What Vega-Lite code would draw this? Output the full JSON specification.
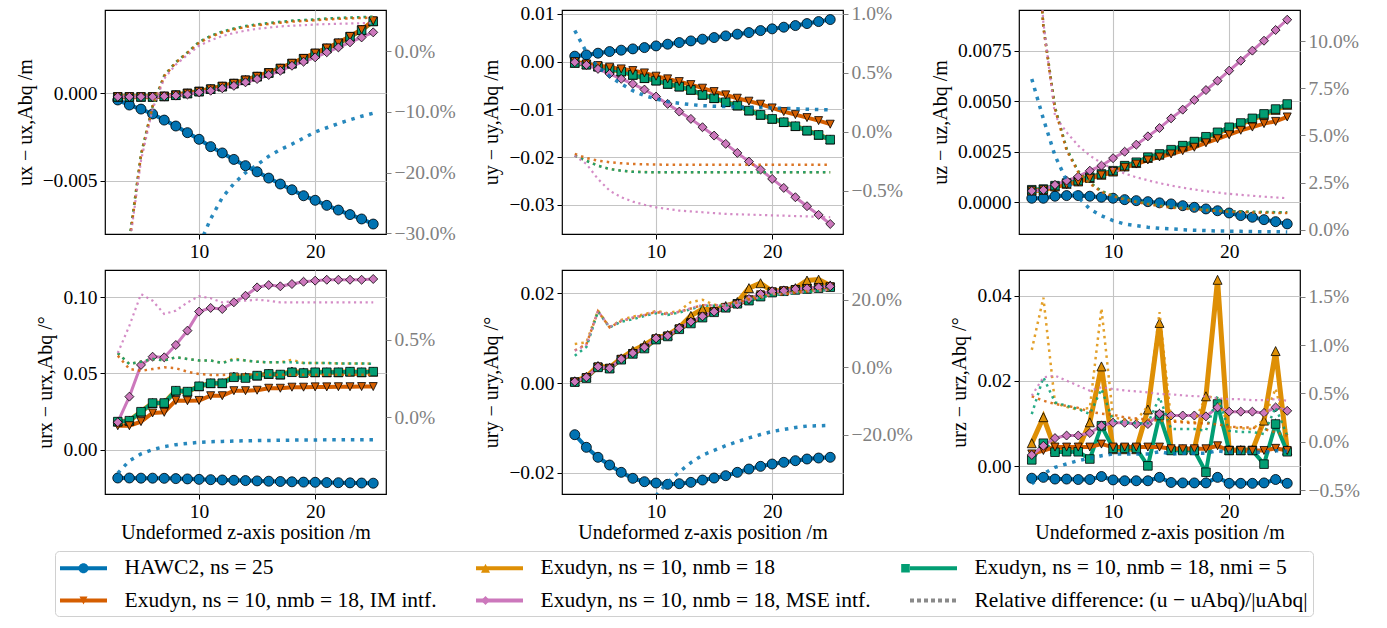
{
"$schema": "https://vega.github.io/schema/vega-lite/v6.json",
"background": "white",
"padding": {"left": 14, "top": 2, "right": 5, "bottom": 0},
"datasets": {"d": [
{"p":"ux","s":"H","z":3,"v":-0.00038,"r":-1.5},{"p":"ux","s":"H","z":4,"v":-0.00067,"r":-1.1},{"p":"ux","s":"H","z":5,"v":-0.0009,"r":-0.85},{"p":"ux","s":"H","z":6,"v":-0.00118,"r":-0.66},{"p":"ux","s":"H","z":7,"v":-0.00153,"r":-0.53},{"p":"ux","s":"H","z":8,"v":-0.00187,"r":-0.44},{"p":"ux","s":"H","z":9,"v":-0.00225,"r":-0.37},{"p":"ux","s":"H","z":10,"v":-0.00263,"r":-0.32},{"p":"ux","s":"H","z":11,"v":-0.00305,"r":-0.276},{"p":"ux","s":"H","z":12,"v":-0.00341,"r":-0.241},{"p":"ux","s":"H","z":13,"v":-0.00378,"r":-0.218},{"p":"ux","s":"H","z":14,"v":-0.00414,"r":-0.2},{"p":"ux","s":"H","z":15,"v":-0.00449,"r":-0.187},{"p":"ux","s":"H","z":16,"v":-0.00485,"r":-0.173},{"p":"ux","s":"H","z":17,"v":-0.00519,"r":-0.162},{"p":"ux","s":"H","z":18,"v":-0.00552,"r":-0.153},{"p":"ux","s":"H","z":19,"v":-0.00586,"r":-0.143},{"p":"ux","s":"H","z":20,"v":-0.00612,"r":-0.133},{"p":"ux","s":"H","z":21,"v":-0.00641,"r":-0.126},{"p":"ux","s":"H","z":22,"v":-0.00668,"r":-0.119},{"p":"ux","s":"H","z":23,"v":-0.00694,"r":-0.113},{"p":"ux","s":"H","z":24,"v":-0.00719,"r":-0.107},{"p":"ux","s":"H","z":25,"v":-0.00748,"r":-0.102},
{"p":"ux","s":"E","z":3,"v":-0.0002,"r":-0.6},{"p":"ux","s":"E","z":4,"v":-0.0002,"r":-0.31},{"p":"ux","s":"E","z":5,"v":-0.0002,"r":-0.17},{"p":"ux","s":"E","z":6,"v":-0.0002,"r":-0.09},{"p":"ux","s":"E","z":7,"v":-0.00017,"r":-0.04},{"p":"ux","s":"E","z":8,"v":-0.0001,"r":-0.018},{"p":"ux","s":"E","z":9,"v":0,"r":-0.002},{"p":"ux","s":"E","z":10,"v":0.00011,"r":0.015},{"p":"ux","s":"E","z":11,"v":0.00025,"r":0.025},{"p":"ux","s":"E","z":12,"v":0.0004,"r":0.032},{"p":"ux","s":"E","z":13,"v":0.00057,"r":0.037},{"p":"ux","s":"E","z":14,"v":0.00076,"r":0.041},{"p":"ux","s":"E","z":15,"v":0.00097,"r":0.044},{"p":"ux","s":"E","z":16,"v":0.00118,"r":0.046},{"p":"ux","s":"E","z":17,"v":0.00143,"r":0.048},{"p":"ux","s":"E","z":18,"v":0.00171,"r":0.05},{"p":"ux","s":"E","z":19,"v":0.00199,"r":0.051},{"p":"ux","s":"E","z":20,"v":0.00229,"r":0.052},{"p":"ux","s":"E","z":21,"v":0.00258,"r":0.0535},{"p":"ux","s":"E","z":22,"v":0.00287,"r":0.0545},{"p":"ux","s":"E","z":23,"v":0.00325,"r":0.0552},{"p":"ux","s":"E","z":24,"v":0.00363,"r":0.0558},{"p":"ux","s":"E","z":25,"v":0.00413,"r":0.0565},
{"p":"ux","s":"M5","z":3,"v":-0.0002,"r":-0.6},{"p":"ux","s":"M5","z":4,"v":-0.0002,"r":-0.31},{"p":"ux","s":"M5","z":5,"v":-0.0002,"r":-0.17},{"p":"ux","s":"M5","z":6,"v":-0.0002,"r":-0.09},{"p":"ux","s":"M5","z":7,"v":-0.00017,"r":-0.04},{"p":"ux","s":"M5","z":8,"v":-0.0001,"r":-0.018},{"p":"ux","s":"M5","z":9,"v":0,"r":-0.002},{"p":"ux","s":"M5","z":10,"v":0.00011,"r":0.0155},{"p":"ux","s":"M5","z":11,"v":0.00024,"r":0.0255},{"p":"ux","s":"M5","z":12,"v":0.00039,"r":0.0325},{"p":"ux","s":"M5","z":13,"v":0.00056,"r":0.0375},{"p":"ux","s":"M5","z":14,"v":0.00075,"r":0.0415},{"p":"ux","s":"M5","z":15,"v":0.00096,"r":0.0445},{"p":"ux","s":"M5","z":16,"v":0.00117,"r":0.0465},{"p":"ux","s":"M5","z":17,"v":0.00142,"r":0.0485},{"p":"ux","s":"M5","z":18,"v":0.0017,"r":0.0505},{"p":"ux","s":"M5","z":19,"v":0.00198,"r":0.0515},{"p":"ux","s":"M5","z":20,"v":0.00228,"r":0.0525},{"p":"ux","s":"M5","z":21,"v":0.00257,"r":0.054},{"p":"ux","s":"M5","z":22,"v":0.00286,"r":0.055},{"p":"ux","s":"M5","z":23,"v":0.00324,"r":0.0557},{"p":"ux","s":"M5","z":24,"v":0.00362,"r":0.0563},{"p":"ux","s":"M5","z":25,"v":0.00412,"r":0.057},
{"p":"ux","s":"IM","z":3,"v":-0.0002,"r":-0.61},{"p":"ux","s":"IM","z":4,"v":-0.0002,"r":-0.315},{"p":"ux","s":"IM","z":5,"v":-0.0002,"r":-0.172},{"p":"ux","s":"IM","z":6,"v":-0.0002,"r":-0.091},{"p":"ux","s":"IM","z":7,"v":-0.00017,"r":-0.041},{"p":"ux","s":"IM","z":8,"v":-0.0001,"r":-0.019},{"p":"ux","s":"IM","z":9,"v":0,"r":-0.003},{"p":"ux","s":"IM","z":10,"v":0.00011,"r":0.014},{"p":"ux","s":"IM","z":11,"v":0.00025,"r":0.024},{"p":"ux","s":"IM","z":12,"v":0.0004,"r":0.031},{"p":"ux","s":"IM","z":13,"v":0.00057,"r":0.036},{"p":"ux","s":"IM","z":14,"v":0.00076,"r":0.04},{"p":"ux","s":"IM","z":15,"v":0.00097,"r":0.043},{"p":"ux","s":"IM","z":16,"v":0.00118,"r":0.045},{"p":"ux","s":"IM","z":17,"v":0.00143,"r":0.047},{"p":"ux","s":"IM","z":18,"v":0.00172,"r":0.049},{"p":"ux","s":"IM","z":19,"v":0.002,"r":0.05},{"p":"ux","s":"IM","z":20,"v":0.0023,"r":0.051},{"p":"ux","s":"IM","z":21,"v":0.00259,"r":0.0525},{"p":"ux","s":"IM","z":22,"v":0.00288,"r":0.0535},{"p":"ux","s":"IM","z":23,"v":0.00326,"r":0.0542},{"p":"ux","s":"IM","z":24,"v":0.00364,"r":0.0548},{"p":"ux","s":"IM","z":25,"v":0.00415,"r":0.0555},
{"p":"ux","s":"MSE","z":3,"v":-0.0002,"r":-0.62},{"p":"ux","s":"MSE","z":4,"v":-0.0002,"r":-0.32},{"p":"ux","s":"MSE","z":5,"v":-0.0002,"r":-0.18},{"p":"ux","s":"MSE","z":6,"v":-0.0002,"r":-0.095},{"p":"ux","s":"MSE","z":7,"v":-0.00017,"r":-0.045},{"p":"ux","s":"MSE","z":8,"v":-0.00013,"r":-0.022},{"p":"ux","s":"MSE","z":9,"v":-0.00006,"r":-0.006},{"p":"ux","s":"MSE","z":10,"v":0.00006,"r":0.009},{"p":"ux","s":"MSE","z":11,"v":0.00015,"r":0.018},{"p":"ux","s":"MSE","z":12,"v":0.00029,"r":0.025},{"p":"ux","s":"MSE","z":13,"v":0.00043,"r":0.03},{"p":"ux","s":"MSE","z":14,"v":0.00063,"r":0.034},{"p":"ux","s":"MSE","z":15,"v":0.00082,"r":0.037},{"p":"ux","s":"MSE","z":16,"v":0.00105,"r":0.039},{"p":"ux","s":"MSE","z":17,"v":0.00129,"r":0.041},{"p":"ux","s":"MSE","z":18,"v":0.00158,"r":0.042},{"p":"ux","s":"MSE","z":19,"v":0.00181,"r":0.043},{"p":"ux","s":"MSE","z":20,"v":0.00206,"r":0.044},{"p":"ux","s":"MSE","z":21,"v":0.00235,"r":0.0448},{"p":"ux","s":"MSE","z":22,"v":0.00263,"r":0.0453},{"p":"ux","s":"MSE","z":23,"v":0.00292,"r":0.0458},{"p":"ux","s":"MSE","z":24,"v":0.0032,"r":0.0462},{"p":"ux","s":"MSE","z":25,"v":0.00349,"r":0.0466},
{"p":"uy","s":"H","z":3,"v":0.00113,"r":0.00856},{"p":"uy","s":"H","z":4,"v":0.0014,"r":0.00673},{"p":"uy","s":"H","z":5,"v":0.00176,"r":0.00546},{"p":"uy","s":"H","z":6,"v":0.0021,"r":0.0047},{"p":"uy","s":"H","z":7,"v":0.00239,"r":0.00404},{"p":"uy","s":"H","z":8,"v":0.00266,"r":0.00347},{"p":"uy","s":"H","z":9,"v":0.00293,"r":0.00305},{"p":"uy","s":"H","z":10,"v":0.00328,"r":0.00277},{"p":"uy","s":"H","z":11,"v":0.00364,"r":0.00254},{"p":"uy","s":"H","z":12,"v":0.00398,"r":0.0024},{"p":"uy","s":"H","z":13,"v":0.00433,"r":0.00229},{"p":"uy","s":"H","z":14,"v":0.00469,"r":0.0022},{"p":"uy","s":"H","z":15,"v":0.00503,"r":0.00215},{"p":"uy","s":"H","z":16,"v":0.00538,"r":0.00212},{"p":"uy","s":"H","z":17,"v":0.00574,"r":0.0021},{"p":"uy","s":"H","z":18,"v":0.00607,"r":0.00207},{"p":"uy","s":"H","z":19,"v":0.00649,"r":0.00204},{"p":"uy","s":"H","z":20,"v":0.00685,"r":0.002},{"p":"uy","s":"H","z":21,"v":0.0072,"r":0.00197},{"p":"uy","s":"H","z":22,"v":0.00754,"r":0.00194},{"p":"uy","s":"H","z":23,"v":0.00796,"r":0.0019},{"p":"uy","s":"H","z":24,"v":0.00838,"r":0.00187},{"p":"uy","s":"H","z":25,"v":0.0088,"r":0.00184},
{"p":"uy","s":"E","z":3,"v":-0.00025,"r":-0.00203},{"p":"uy","s":"E","z":4,"v":-0.00061,"r":-0.00246},{"p":"uy","s":"E","z":5,"v":-0.00103,"r":-0.00288},{"p":"uy","s":"E","z":6,"v":-0.00151,"r":-0.00316},{"p":"uy","s":"E","z":7,"v":-0.00207,"r":-0.0033},{"p":"uy","s":"E","z":8,"v":-0.00277,"r":-0.00339},{"p":"uy","s":"E","z":9,"v":-0.00346,"r":-0.00342},{"p":"uy","s":"E","z":10,"v":-0.00396,"r":-0.00344},{"p":"uy","s":"E","z":11,"v":-0.00465,"r":-0.00344},{"p":"uy","s":"E","z":12,"v":-0.00522,"r":-0.00344},{"p":"uy","s":"E","z":13,"v":-0.00591,"r":-0.00344},{"p":"uy","s":"E","z":14,"v":-0.00695,"r":-0.00344},{"p":"uy","s":"E","z":15,"v":-0.00765,"r":-0.00344},{"p":"uy","s":"E","z":16,"v":-0.00848,"r":-0.00344},{"p":"uy","s":"E","z":17,"v":-0.00919,"r":-0.00344},{"p":"uy","s":"E","z":18,"v":-0.01024,"r":-0.00344},{"p":"uy","s":"E","z":19,"v":-0.01114,"r":-0.00344},{"p":"uy","s":"E","z":20,"v":-0.01198,"r":-0.00344},{"p":"uy","s":"E","z":21,"v":-0.01267,"r":-0.00344},{"p":"uy","s":"E","z":22,"v":-0.01351,"r":-0.00344},{"p":"uy","s":"E","z":23,"v":-0.01443,"r":-0.00344},{"p":"uy","s":"E","z":24,"v":-0.01533,"r":-0.00344},{"p":"uy","s":"E","z":25,"v":-0.01631,"r":-0.00344},
{"p":"uy","s":"M5","z":3,"v":-0.00027,"r":-0.00204},{"p":"uy","s":"M5","z":4,"v":-0.00063,"r":-0.00247},{"p":"uy","s":"M5","z":5,"v":-0.00105,"r":-0.00289},{"p":"uy","s":"M5","z":6,"v":-0.00153,"r":-0.00317},{"p":"uy","s":"M5","z":7,"v":-0.00209,"r":-0.00331},{"p":"uy","s":"M5","z":8,"v":-0.00279,"r":-0.0034},{"p":"uy","s":"M5","z":9,"v":-0.00348,"r":-0.00343},{"p":"uy","s":"M5","z":10,"v":-0.00398,"r":-0.00345},{"p":"uy","s":"M5","z":11,"v":-0.00467,"r":-0.00345},{"p":"uy","s":"M5","z":12,"v":-0.00524,"r":-0.00345},{"p":"uy","s":"M5","z":13,"v":-0.00593,"r":-0.00345},{"p":"uy","s":"M5","z":14,"v":-0.00697,"r":-0.00345},{"p":"uy","s":"M5","z":15,"v":-0.00767,"r":-0.00345},{"p":"uy","s":"M5","z":16,"v":-0.0085,"r":-0.00345},{"p":"uy","s":"M5","z":17,"v":-0.00921,"r":-0.00345},{"p":"uy","s":"M5","z":18,"v":-0.01026,"r":-0.00345},{"p":"uy","s":"M5","z":19,"v":-0.01116,"r":-0.00345},{"p":"uy","s":"M5","z":20,"v":-0.012,"r":-0.00345},{"p":"uy","s":"M5","z":21,"v":-0.01269,"r":-0.00345},{"p":"uy","s":"M5","z":22,"v":-0.01353,"r":-0.00345},{"p":"uy","s":"M5","z":23,"v":-0.01445,"r":-0.00345},{"p":"uy","s":"M5","z":24,"v":-0.01535,"r":-0.00345},{"p":"uy","s":"M5","z":25,"v":-0.01633,"r":-0.00345},
{"p":"uy","s":"IM","z":3,"v":0,"r":-0.00189},{"p":"uy","s":"IM","z":4,"v":-0.0005,"r":-0.00223},{"p":"uy","s":"IM","z":5,"v":-0.00084,"r":-0.00246},{"p":"uy","s":"IM","z":6,"v":-0.00117,"r":-0.00259},{"p":"uy","s":"IM","z":7,"v":-0.00153,"r":-0.00268},{"p":"uy","s":"IM","z":8,"v":-0.00188,"r":-0.00274},{"p":"uy","s":"IM","z":9,"v":-0.00237,"r":-0.00277},{"p":"uy","s":"IM","z":10,"v":-0.00306,"r":-0.00279},{"p":"uy","s":"IM","z":11,"v":-0.00362,"r":-0.0028},{"p":"uy","s":"IM","z":12,"v":-0.00419,"r":-0.0028},{"p":"uy","s":"IM","z":13,"v":-0.00482,"r":-0.0028},{"p":"uy","s":"IM","z":14,"v":-0.00557,"r":-0.0028},{"p":"uy","s":"IM","z":15,"v":-0.00628,"r":-0.0028},{"p":"uy","s":"IM","z":16,"v":-0.00697,"r":-0.0028},{"p":"uy","s":"IM","z":17,"v":-0.00767,"r":-0.0028},{"p":"uy","s":"IM","z":18,"v":-0.00829,"r":-0.0028},{"p":"uy","s":"IM","z":19,"v":-0.00892,"r":-0.0028},{"p":"uy","s":"IM","z":20,"v":-0.0097,"r":-0.0028},{"p":"uy","s":"IM","z":21,"v":-0.01047,"r":-0.0028},{"p":"uy","s":"IM","z":22,"v":-0.0111,"r":-0.0028},{"p":"uy","s":"IM","z":23,"v":-0.01173,"r":-0.0028},{"p":"uy","s":"IM","z":24,"v":-0.01236,"r":-0.0028},{"p":"uy","s":"IM","z":25,"v":-0.01311,"r":-0.0028},
{"p":"uy","s":"MSE","z":3,"v":-0.00013,"r":-0.00203},{"p":"uy","s":"MSE","z":4,"v":-0.00069,"r":-0.00274},{"p":"uy","s":"MSE","z":5,"v":-0.00153,"r":-0.00401},{"p":"uy","s":"MSE","z":6,"v":-0.00258,"r":-0.005},{"p":"uy","s":"MSE","z":7,"v":-0.00362,"r":-0.00556},{"p":"uy","s":"MSE","z":8,"v":-0.00467,"r":-0.00593},{"p":"uy","s":"MSE","z":9,"v":-0.00586,"r":-0.00619},{"p":"uy","s":"MSE","z":10,"v":-0.00733,"r":-0.00641},{"p":"uy","s":"MSE","z":11,"v":-0.00886,"r":-0.00655},{"p":"uy","s":"MSE","z":12,"v":-0.01047,"r":-0.00669},{"p":"uy","s":"MSE","z":13,"v":-0.012,"r":-0.00676},{"p":"uy","s":"MSE","z":14,"v":-0.01374,"r":-0.00683},{"p":"uy","s":"MSE","z":15,"v":-0.01549,"r":-0.0069},{"p":"uy","s":"MSE","z":16,"v":-0.01723,"r":-0.00697},{"p":"uy","s":"MSE","z":17,"v":-0.01912,"r":-0.007},{"p":"uy","s":"MSE","z":18,"v":-0.02094,"r":-0.00703},{"p":"uy","s":"MSE","z":19,"v":-0.02262,"r":-0.00706},{"p":"uy","s":"MSE","z":20,"v":-0.02457,"r":-0.00709},{"p":"uy","s":"MSE","z":21,"v":-0.02645,"r":-0.00712},{"p":"uy","s":"MSE","z":22,"v":-0.0284,"r":-0.00715},{"p":"uy","s":"MSE","z":23,"v":-0.03028,"r":-0.00718},{"p":"uy","s":"MSE","z":24,"v":-0.0321,"r":-0.00721},{"p":"uy","s":"MSE","z":25,"v":-0.034,"r":-0.00725},
{"p":"uz","s":"H","z":3,"v":0.0002,"r":0.08},{"p":"uz","s":"H","z":4,"v":0.0002,"r":0.0588},{"p":"uz","s":"H","z":5,"v":0.0003,"r":0.0393},{"p":"uz","s":"H","z":6,"v":0.00033,"r":0.026},{"p":"uz","s":"H","z":7,"v":0.00033,"r":0.0172},{"p":"uz","s":"H","z":8,"v":0.0003,"r":0.011},{"p":"uz","s":"H","z":9,"v":0.00025,"r":0.0074},{"p":"uz","s":"H","z":10,"v":0.0002,"r":0.0048},{"p":"uz","s":"H","z":11,"v":0.00013,"r":0.003},{"p":"uz","s":"H","z":12,"v":0.00008,"r":0.0021},{"p":"uz","s":"H","z":13,"v":0.00003,"r":0.0013},{"p":"uz","s":"H","z":14,"v":-0.00003,"r":0.0007},{"p":"uz","s":"H","z":15,"v":-0.00008,"r":0.0004},{"p":"uz","s":"H","z":16,"v":-0.00017,"r":0},{"p":"uz","s":"H","z":17,"v":-0.00025,"r":-0.0003},{"p":"uz","s":"H","z":18,"v":-0.00033,"r":-0.0005},{"p":"uz","s":"H","z":19,"v":-0.00042,"r":-0.0007},{"p":"uz","s":"H","z":20,"v":-0.00053,"r":-0.0008},{"p":"uz","s":"H","z":21,"v":-0.00066,"r":-0.0009},{"p":"uz","s":"H","z":22,"v":-0.00074,"r":-0.001},{"p":"uz","s":"H","z":23,"v":-0.00086,"r":-0.0011},{"p":"uz","s":"H","z":24,"v":-0.00096,"r":-0.0011},{"p":"uz","s":"H","z":25,"v":-0.00107,"r":-0.0012},
{"p":"uz","s":"E","z":3,"v":0.00058,"r":0.2},{"p":"uz","s":"E","z":4,"v":0.00061,"r":0.108},{"p":"uz","s":"E","z":5,"v":0.00078,"r":0.065},{"p":"uz","s":"E","z":6,"v":0.00091,"r":0.043},{"p":"uz","s":"E","z":7,"v":0.00103,"r":0.031},{"p":"uz","s":"E","z":8,"v":0.0012,"r":0.025},{"p":"uz","s":"E","z":9,"v":0.00136,"r":0.0205},{"p":"uz","s":"E","z":10,"v":0.00152,"r":0.018},{"p":"uz","s":"E","z":11,"v":0.00177,"r":0.0163},{"p":"uz","s":"E","z":12,"v":0.00194,"r":0.015},{"p":"uz","s":"E","z":13,"v":0.00219,"r":0.0138},{"p":"uz","s":"E","z":14,"v":0.00235,"r":0.0128},{"p":"uz","s":"E","z":15,"v":0.00256,"r":0.012},{"p":"uz","s":"E","z":16,"v":0.00276,"r":0.0115},{"p":"uz","s":"E","z":17,"v":0.00296,"r":0.011},{"p":"uz","s":"E","z":18,"v":0.0032,"r":0.0106},{"p":"uz","s":"E","z":19,"v":0.00342,"r":0.0102},{"p":"uz","s":"E","z":20,"v":0.00367,"r":0.0098},{"p":"uz","s":"E","z":21,"v":0.00388,"r":0.0096},{"p":"uz","s":"E","z":22,"v":0.00411,"r":0.0094},{"p":"uz","s":"E","z":23,"v":0.00433,"r":0.0093},{"p":"uz","s":"E","z":24,"v":0.00457,"r":0.0092},{"p":"uz","s":"E","z":25,"v":0.00482,"r":0.0091},
{"p":"uz","s":"M5","z":3,"v":0.00062,"r":0.2},{"p":"uz","s":"M5","z":4,"v":0.00065,"r":0.108},{"p":"uz","s":"M5","z":5,"v":0.00082,"r":0.065},{"p":"uz","s":"M5","z":6,"v":0.00095,"r":0.043},{"p":"uz","s":"M5","z":7,"v":0.00107,"r":0.031},{"p":"uz","s":"M5","z":8,"v":0.00124,"r":0.025},{"p":"uz","s":"M5","z":9,"v":0.0014,"r":0.0205},{"p":"uz","s":"M5","z":10,"v":0.00156,"r":0.018},{"p":"uz","s":"M5","z":11,"v":0.00181,"r":0.0164},{"p":"uz","s":"M5","z":12,"v":0.00198,"r":0.0151},{"p":"uz","s":"M5","z":13,"v":0.00223,"r":0.0139},{"p":"uz","s":"M5","z":14,"v":0.00239,"r":0.0129},{"p":"uz","s":"M5","z":15,"v":0.0026,"r":0.0121},{"p":"uz","s":"M5","z":16,"v":0.0028,"r":0.0116},{"p":"uz","s":"M5","z":17,"v":0.003,"r":0.0111},{"p":"uz","s":"M5","z":18,"v":0.00324,"r":0.0107},{"p":"uz","s":"M5","z":19,"v":0.00346,"r":0.0103},{"p":"uz","s":"M5","z":20,"v":0.00371,"r":0.0099},{"p":"uz","s":"M5","z":21,"v":0.00392,"r":0.0097},{"p":"uz","s":"M5","z":22,"v":0.00415,"r":0.0095},{"p":"uz","s":"M5","z":23,"v":0.00437,"r":0.0094},{"p":"uz","s":"M5","z":24,"v":0.00461,"r":0.0093},{"p":"uz","s":"M5","z":25,"v":0.00486,"r":0.0092},
{"p":"uz","s":"IM","z":3,"v":0.00057,"r":0.2},{"p":"uz","s":"IM","z":4,"v":0.00062,"r":0.107},{"p":"uz","s":"IM","z":5,"v":0.00076,"r":0.064},{"p":"uz","s":"IM","z":6,"v":0.00087,"r":0.042},{"p":"uz","s":"IM","z":7,"v":0.001,"r":0.0305},{"p":"uz","s":"IM","z":8,"v":0.00119,"r":0.0245},{"p":"uz","s":"IM","z":9,"v":0.00135,"r":0.02},{"p":"uz","s":"IM","z":10,"v":0.00152,"r":0.0177},{"p":"uz","s":"IM","z":11,"v":0.00173,"r":0.016},{"p":"uz","s":"IM","z":12,"v":0.00189,"r":0.0147},{"p":"uz","s":"IM","z":13,"v":0.00209,"r":0.0135},{"p":"uz","s":"IM","z":14,"v":0.00224,"r":0.0125},{"p":"uz","s":"IM","z":15,"v":0.00239,"r":0.0117},{"p":"uz","s":"IM","z":16,"v":0.00255,"r":0.0112},{"p":"uz","s":"IM","z":17,"v":0.00272,"r":0.0107},{"p":"uz","s":"IM","z":18,"v":0.00294,"r":0.0103},{"p":"uz","s":"IM","z":19,"v":0.00314,"r":0.0099},{"p":"uz","s":"IM","z":20,"v":0.00334,"r":0.0095},{"p":"uz","s":"IM","z":21,"v":0.00356,"r":0.0093},{"p":"uz","s":"IM","z":22,"v":0.00372,"r":0.0091},{"p":"uz","s":"IM","z":23,"v":0.00389,"r":0.009},{"p":"uz","s":"IM","z":24,"v":0.004,"r":0.0089},{"p":"uz","s":"IM","z":25,"v":0.00422,"r":0.0088},
{"p":"uz","s":"MSE","z":3,"v":0.00056,"r":0.2},{"p":"uz","s":"MSE","z":4,"v":0.00061,"r":0.11},{"p":"uz","s":"MSE","z":5,"v":0.00086,"r":0.0605},{"p":"uz","s":"MSE","z":6,"v":0.00107,"r":0.0517},{"p":"uz","s":"MSE","z":7,"v":0.00127,"r":0.0446},{"p":"uz","s":"MSE","z":8,"v":0.00156,"r":0.0393},{"p":"uz","s":"MSE","z":9,"v":0.00181,"r":0.0354},{"p":"uz","s":"MSE","z":10,"v":0.00218,"r":0.0322},{"p":"uz","s":"MSE","z":11,"v":0.0025,"r":0.0298},{"p":"uz","s":"MSE","z":12,"v":0.00285,"r":0.0278},{"p":"uz","s":"MSE","z":13,"v":0.00326,"r":0.0262},{"p":"uz","s":"MSE","z":14,"v":0.00367,"r":0.0247},{"p":"uz","s":"MSE","z":15,"v":0.00415,"r":0.0234},{"p":"uz","s":"MSE","z":16,"v":0.00458,"r":0.0223},{"p":"uz","s":"MSE","z":17,"v":0.00506,"r":0.0213},{"p":"uz","s":"MSE","z":18,"v":0.00555,"r":0.0204},{"p":"uz","s":"MSE","z":19,"v":0.00601,"r":0.0197},{"p":"uz","s":"MSE","z":20,"v":0.00651,"r":0.019},{"p":"uz","s":"MSE","z":21,"v":0.007,"r":0.0185},{"p":"uz","s":"MSE","z":22,"v":0.0075,"r":0.018},{"p":"uz","s":"MSE","z":23,"v":0.00799,"r":0.0175},{"p":"uz","s":"MSE","z":24,"v":0.00852,"r":0.0171},{"p":"uz","s":"MSE","z":25,"v":0.00903,"r":0.0167},
{"p":"rx","s":"H","z":3,"v":-0.0186,"r":-0.0036},{"p":"rx","s":"H","z":4,"v":-0.0186,"r":-0.0028},{"p":"rx","s":"H","z":5,"v":-0.0187,"r":-0.00236},{"p":"rx","s":"H","z":6,"v":-0.0187,"r":-0.00209},{"p":"rx","s":"H","z":7,"v":-0.0188,"r":-0.00189},{"p":"rx","s":"H","z":8,"v":-0.019,"r":-0.00176},{"p":"rx","s":"H","z":9,"v":-0.0192,"r":-0.00168},{"p":"rx","s":"H","z":10,"v":-0.0195,"r":-0.00161},{"p":"rx","s":"H","z":11,"v":-0.0197,"r":-0.00157},{"p":"rx","s":"H","z":12,"v":-0.0199,"r":-0.00155},{"p":"rx","s":"H","z":13,"v":-0.0201,"r":-0.00153},{"p":"rx","s":"H","z":14,"v":-0.0203,"r":-0.00151},{"p":"rx","s":"H","z":15,"v":-0.0205,"r":-0.0015},{"p":"rx","s":"H","z":16,"v":-0.0207,"r":-0.00149},{"p":"rx","s":"H","z":17,"v":-0.0209,"r":-0.00148},{"p":"rx","s":"H","z":18,"v":-0.0211,"r":-0.00147},{"p":"rx","s":"H","z":19,"v":-0.0213,"r":-0.00146},{"p":"rx","s":"H","z":20,"v":-0.0214,"r":-0.00146},{"p":"rx","s":"H","z":21,"v":-0.0216,"r":-0.00145},{"p":"rx","s":"H","z":22,"v":-0.0217,"r":-0.00145},{"p":"rx","s":"H","z":23,"v":-0.0218,"r":-0.00144},{"p":"rx","s":"H","z":24,"v":-0.0219,"r":-0.00144},{"p":"rx","s":"H","z":25,"v":-0.022,"r":-0.00144},
{"p":"rx","s":"E","z":3,"v":0.0184,"r":0.00414},{"p":"rx","s":"E","z":4,"v":0.019,"r":0.00343},{"p":"rx","s":"E","z":5,"v":0.0249,"r":0.00358},{"p":"rx","s":"E","z":6,"v":0.0306,"r":0.00376},{"p":"rx","s":"E","z":7,"v":0.0306,"r":0.00366},{"p":"rx","s":"E","z":8,"v":0.0387,"r":0.00387},{"p":"rx","s":"E","z":9,"v":0.0381,"r":0.00376},{"p":"rx","s":"E","z":10,"v":0.0416,"r":0.00366},{"p":"rx","s":"E","z":11,"v":0.0436,"r":0.00366},{"p":"rx","s":"E","z":12,"v":0.0436,"r":0.0035},{"p":"rx","s":"E","z":13,"v":0.048,"r":0.00378},{"p":"rx","s":"E","z":14,"v":0.0476,"r":0.00366},{"p":"rx","s":"E","z":15,"v":0.0486,"r":0.00358},{"p":"rx","s":"E","z":16,"v":0.0497,"r":0.00354},{"p":"rx","s":"E","z":17,"v":0.0493,"r":0.00354},{"p":"rx","s":"E","z":18,"v":0.0513,"r":0.0037},{"p":"rx","s":"E","z":19,"v":0.0507,"r":0.0035},{"p":"rx","s":"E","z":20,"v":0.0508,"r":0.0035},{"p":"rx","s":"E","z":21,"v":0.0508,"r":0.0035},{"p":"rx","s":"E","z":22,"v":0.0508,"r":0.00347},{"p":"rx","s":"E","z":23,"v":0.0512,"r":0.00347},{"p":"rx","s":"E","z":24,"v":0.0508,"r":0.00347},{"p":"rx","s":"E","z":25,"v":0.0512,"r":0.00345},
{"p":"rx","s":"M5","z":3,"v":0.0184,"r":0.00414},{"p":"rx","s":"M5","z":4,"v":0.019,"r":0.00343},{"p":"rx","s":"M5","z":5,"v":0.0249,"r":0.00358},{"p":"rx","s":"M5","z":6,"v":0.0306,"r":0.00376},{"p":"rx","s":"M5","z":7,"v":0.0306,"r":0.00366},{"p":"rx","s":"M5","z":8,"v":0.0387,"r":0.00387},{"p":"rx","s":"M5","z":9,"v":0.0381,"r":0.00376},{"p":"rx","s":"M5","z":10,"v":0.0416,"r":0.00366},{"p":"rx","s":"M5","z":11,"v":0.0436,"r":0.00366},{"p":"rx","s":"M5","z":12,"v":0.0436,"r":0.0035},{"p":"rx","s":"M5","z":13,"v":0.0475,"r":0.00371},{"p":"rx","s":"M5","z":14,"v":0.047,"r":0.00366},{"p":"rx","s":"M5","z":15,"v":0.0486,"r":0.00358},{"p":"rx","s":"M5","z":16,"v":0.0497,"r":0.00354},{"p":"rx","s":"M5","z":17,"v":0.0493,"r":0.00354},{"p":"rx","s":"M5","z":18,"v":0.0508,"r":0.00354},{"p":"rx","s":"M5","z":19,"v":0.0503,"r":0.0035},{"p":"rx","s":"M5","z":20,"v":0.0508,"r":0.0035},{"p":"rx","s":"M5","z":21,"v":0.0508,"r":0.0035},{"p":"rx","s":"M5","z":22,"v":0.0508,"r":0.00347},{"p":"rx","s":"M5","z":23,"v":0.0512,"r":0.00347},{"p":"rx","s":"M5","z":24,"v":0.0508,"r":0.00347},{"p":"rx","s":"M5","z":25,"v":0.0512,"r":0.00345},
{"p":"rx","s":"IM","z":3,"v":0.0157,"r":0.00397},{"p":"rx","s":"IM","z":4,"v":0.0157,"r":0.00311},{"p":"rx","s":"IM","z":5,"v":0.0184,"r":0.003},{"p":"rx","s":"IM","z":6,"v":0.0241,"r":0.00311},{"p":"rx","s":"IM","z":7,"v":0.0245,"r":0.00322},{"p":"rx","s":"IM","z":8,"v":0.0323,"r":0.00316},{"p":"rx","s":"IM","z":9,"v":0.0321,"r":0.00294},{"p":"rx","s":"IM","z":10,"v":0.0323,"r":0.00279},{"p":"rx","s":"IM","z":11,"v":0.0354,"r":0.00273},{"p":"rx","s":"IM","z":12,"v":0.0354,"r":0.00273},{"p":"rx","s":"IM","z":13,"v":0.0387,"r":0.00276},{"p":"rx","s":"IM","z":14,"v":0.0387,"r":0.00276},{"p":"rx","s":"IM","z":15,"v":0.039,"r":0.00276},{"p":"rx","s":"IM","z":16,"v":0.0403,"r":0.00274},{"p":"rx","s":"IM","z":17,"v":0.0403,"r":0.00274},{"p":"rx","s":"IM","z":18,"v":0.041,"r":0.00274},{"p":"rx","s":"IM","z":19,"v":0.041,"r":0.00274},{"p":"rx","s":"IM","z":20,"v":0.0412,"r":0.00274},{"p":"rx","s":"IM","z":21,"v":0.0412,"r":0.00274},{"p":"rx","s":"IM","z":22,"v":0.0413,"r":0.00274},{"p":"rx","s":"IM","z":23,"v":0.0413,"r":0.00274},{"p":"rx","s":"IM","z":24,"v":0.0414,"r":0.00274},{"p":"rx","s":"IM","z":25,"v":0.0414,"r":0.00274},
{"p":"rx","s":"MSE","z":3,"v":0.018,"r":0.00414},{"p":"rx","s":"MSE","z":4,"v":0.0348,"r":0.0059},{"p":"rx","s":"MSE","z":5,"v":0.0556,"r":0.00794},{"p":"rx","s":"MSE","z":6,"v":0.061,"r":0.00751},{"p":"rx","s":"MSE","z":7,"v":0.0606,"r":0.00666},{"p":"rx","s":"MSE","z":8,"v":0.0687,"r":0.00687},{"p":"rx","s":"MSE","z":9,"v":0.0781,"r":0.0074},{"p":"rx","s":"MSE","z":10,"v":0.0906,"r":0.0078},{"p":"rx","s":"MSE","z":11,"v":0.093,"r":0.00767},{"p":"rx","s":"MSE","z":12,"v":0.0923,"r":0.0074},{"p":"rx","s":"MSE","z":13,"v":0.0967,"r":0.0075},{"p":"rx","s":"MSE","z":14,"v":0.101,"r":0.00751},{"p":"rx","s":"MSE","z":15,"v":0.1065,"r":0.00758},{"p":"rx","s":"MSE","z":16,"v":0.108,"r":0.00751},{"p":"rx","s":"MSE","z":17,"v":0.1072,"r":0.0074},{"p":"rx","s":"MSE","z":18,"v":0.1087,"r":0.0074},{"p":"rx","s":"MSE","z":19,"v":0.1102,"r":0.0074},{"p":"rx","s":"MSE","z":20,"v":0.1109,"r":0.0074},{"p":"rx","s":"MSE","z":21,"v":0.1115,"r":0.0074},{"p":"rx","s":"MSE","z":22,"v":0.1115,"r":0.0074},{"p":"rx","s":"MSE","z":23,"v":0.1115,"r":0.0074},{"p":"rx","s":"MSE","z":24,"v":0.1115,"r":0.0074},{"p":"rx","s":"MSE","z":25,"v":0.112,"r":0.0074},
{"p":"ry","s":"H","z":3,"v":-0.01155,"r":-2.2},{"p":"ry","s":"H","z":4,"v":-0.01437,"r":-1.6},{"p":"ry","s":"H","z":5,"v":-0.0166,"r":-1.2},{"p":"ry","s":"H","z":6,"v":-0.01832,"r":-0.9},{"p":"ry","s":"H","z":7,"v":-0.01996,"r":-0.7},{"p":"ry","s":"H","z":8,"v":-0.0213,"r":-0.55},{"p":"ry","s":"H","z":9,"v":-0.02205,"r":-0.45},{"p":"ry","s":"H","z":10,"v":-0.02235,"r":-0.38},{"p":"ry","s":"H","z":11,"v":-0.02264,"r":-0.34},{"p":"ry","s":"H","z":12,"v":-0.0225,"r":-0.31},{"p":"ry","s":"H","z":13,"v":-0.0222,"r":-0.282},{"p":"ry","s":"H","z":14,"v":-0.02168,"r":-0.26},{"p":"ry","s":"H","z":15,"v":-0.02123,"r":-0.246},{"p":"ry","s":"H","z":16,"v":-0.02071,"r":-0.232},{"p":"ry","s":"H","z":17,"v":-0.01996,"r":-0.22},{"p":"ry","s":"H","z":18,"v":-0.01922,"r":-0.209},{"p":"ry","s":"H","z":19,"v":-0.01862,"r":-0.199},{"p":"ry","s":"H","z":20,"v":-0.0181,"r":-0.19},{"p":"ry","s":"H","z":21,"v":-0.01772,"r":-0.184},{"p":"ry","s":"H","z":22,"v":-0.01736,"r":-0.178},{"p":"ry","s":"H","z":23,"v":-0.01698,"r":-0.174},{"p":"ry","s":"H","z":24,"v":-0.01676,"r":-0.173},{"p":"ry","s":"H","z":25,"v":-0.0166,"r":-0.172},
{"p":"ry","s":"E","z":3,"v":0.0004,"r":0.069},{"p":"ry","s":"E","z":4,"v":0.0014,"r":0.074},{"p":"ry","s":"E","z":5,"v":0.0038,"r":0.168},{"p":"ry","s":"E","z":6,"v":0.0034,"r":0.1185},{"p":"ry","s":"E","z":7,"v":0.0055,"r":0.14},{"p":"ry","s":"E","z":8,"v":0.0072,"r":0.15},{"p":"ry","s":"E","z":9,"v":0.0085,"r":0.157},{"p":"ry","s":"E","z":10,"v":0.0101,"r":0.167},{"p":"ry","s":"E","z":11,"v":0.0107,"r":0.16},{"p":"ry","s":"E","z":12,"v":0.0124,"r":0.167},{"p":"ry","s":"E","z":13,"v":0.015,"r":0.193},{"p":"ry","s":"E","z":14,"v":0.0165,"r":0.2},{"p":"ry","s":"E","z":15,"v":0.0163,"r":0.185},{"p":"ry","s":"E","z":16,"v":0.0172,"r":0.185},{"p":"ry","s":"E","z":17,"v":0.0181,"r":0.193},{"p":"ry","s":"E","z":18,"v":0.0212,"r":0.205},{"p":"ry","s":"E","z":19,"v":0.0223,"r":0.21},{"p":"ry","s":"E","z":20,"v":0.0205,"r":0.217},{"p":"ry","s":"E","z":21,"v":0.0207,"r":0.217},{"p":"ry","s":"E","z":22,"v":0.0212,"r":0.222},{"p":"ry","s":"E","z":23,"v":0.0229,"r":0.226},{"p":"ry","s":"E","z":24,"v":0.0231,"r":0.228},{"p":"ry","s":"E","z":25,"v":0.0218,"r":0.23},
{"p":"ry","s":"M5","z":3,"v":0.0002,"r":0.034},{"p":"ry","s":"M5","z":4,"v":0.0011,"r":0.06},{"p":"ry","s":"M5","z":5,"v":0.0035,"r":0.165},{"p":"ry","s":"M5","z":6,"v":0.0032,"r":0.118},{"p":"ry","s":"M5","z":7,"v":0.0052,"r":0.135},{"p":"ry","s":"M5","z":8,"v":0.0065,"r":0.142},{"p":"ry","s":"M5","z":9,"v":0.0077,"r":0.152},{"p":"ry","s":"M5","z":10,"v":0.0097,"r":0.16},{"p":"ry","s":"M5","z":11,"v":0.0104,"r":0.155},{"p":"ry","s":"M5","z":12,"v":0.012,"r":0.162},{"p":"ry","s":"M5","z":13,"v":0.0133,"r":0.172},{"p":"ry","s":"M5","z":14,"v":0.0146,"r":0.182},{"p":"ry","s":"M5","z":15,"v":0.0158,"r":0.182},{"p":"ry","s":"M5","z":16,"v":0.0168,"r":0.183},{"p":"ry","s":"M5","z":17,"v":0.0177,"r":0.19},{"p":"ry","s":"M5","z":18,"v":0.0184,"r":0.2},{"p":"ry","s":"M5","z":19,"v":0.0193,"r":0.205},{"p":"ry","s":"M5","z":20,"v":0.0202,"r":0.215},{"p":"ry","s":"M5","z":21,"v":0.0205,"r":0.215},{"p":"ry","s":"M5","z":22,"v":0.0208,"r":0.22},{"p":"ry","s":"M5","z":23,"v":0.021,"r":0.223},{"p":"ry","s":"M5","z":24,"v":0.0212,"r":0.226},{"p":"ry","s":"M5","z":25,"v":0.0214,"r":0.229},
{"p":"ry","s":"IM","z":3,"v":0.0002,"r":0.05},{"p":"ry","s":"IM","z":4,"v":0.0012,"r":0.068},{"p":"ry","s":"IM","z":5,"v":0.0036,"r":0.166},{"p":"ry","s":"IM","z":6,"v":0.0033,"r":0.118},{"p":"ry","s":"IM","z":7,"v":0.0053,"r":0.137},{"p":"ry","s":"IM","z":8,"v":0.0066,"r":0.146},{"p":"ry","s":"IM","z":9,"v":0.0078,"r":0.154},{"p":"ry","s":"IM","z":10,"v":0.0099,"r":0.164},{"p":"ry","s":"IM","z":11,"v":0.0105,"r":0.157},{"p":"ry","s":"IM","z":12,"v":0.0121,"r":0.164},{"p":"ry","s":"IM","z":13,"v":0.0135,"r":0.174},{"p":"ry","s":"IM","z":14,"v":0.0148,"r":0.184},{"p":"ry","s":"IM","z":15,"v":0.0159,"r":0.183},{"p":"ry","s":"IM","z":16,"v":0.0169,"r":0.184},{"p":"ry","s":"IM","z":17,"v":0.0176,"r":0.192},{"p":"ry","s":"IM","z":18,"v":0.0186,"r":0.201},{"p":"ry","s":"IM","z":19,"v":0.0197,"r":0.206},{"p":"ry","s":"IM","z":20,"v":0.0204,"r":0.216},{"p":"ry","s":"IM","z":21,"v":0.0206,"r":0.216},{"p":"ry","s":"IM","z":22,"v":0.0209,"r":0.221},{"p":"ry","s":"IM","z":23,"v":0.0211,"r":0.224},{"p":"ry","s":"IM","z":24,"v":0.0213,"r":0.227},{"p":"ry","s":"IM","z":25,"v":0.0215,"r":0.23},
{"p":"ry","s":"MSE","z":3,"v":0.0003,"r":0.049},{"p":"ry","s":"MSE","z":4,"v":0.00127,"r":0.066},{"p":"ry","s":"MSE","z":5,"v":0.00364,"r":0.167},{"p":"ry","s":"MSE","z":6,"v":0.00328,"r":0.119},{"p":"ry","s":"MSE","z":7,"v":0.00536,"r":0.138},{"p":"ry","s":"MSE","z":8,"v":0.0067,"r":0.148},{"p":"ry","s":"MSE","z":9,"v":0.00797,"r":0.155},{"p":"ry","s":"MSE","z":10,"v":0.00998,"r":0.165},{"p":"ry","s":"MSE","z":11,"v":0.01057,"r":0.158},{"p":"ry","s":"MSE","z":12,"v":0.01222,"r":0.165},{"p":"ry","s":"MSE","z":13,"v":0.0137,"r":0.175},{"p":"ry","s":"MSE","z":14,"v":0.0149,"r":0.185},{"p":"ry","s":"MSE","z":15,"v":0.01594,"r":0.183},{"p":"ry","s":"MSE","z":16,"v":0.01691,"r":0.185},{"p":"ry","s":"MSE","z":17,"v":0.01765,"r":0.193},{"p":"ry","s":"MSE","z":18,"v":0.01877,"r":0.202},{"p":"ry","s":"MSE","z":19,"v":0.01989,"r":0.207},{"p":"ry","s":"MSE","z":20,"v":0.02049,"r":0.217},{"p":"ry","s":"MSE","z":21,"v":0.02063,"r":0.217},{"p":"ry","s":"MSE","z":22,"v":0.021,"r":0.222},{"p":"ry","s":"MSE","z":23,"v":0.02116,"r":0.225},{"p":"ry","s":"MSE","z":24,"v":0.02138,"r":0.227},{"p":"ry","s":"MSE","z":25,"v":0.02161,"r":0.23},
{"p":"rz","s":"H","z":3,"v":-0.0028,"r":-0.00437},{"p":"rz","s":"H","z":4,"v":-0.0026,"r":-0.00334},{"p":"rz","s":"H","z":5,"v":-0.003,"r":-0.00265},{"p":"rz","s":"H","z":6,"v":-0.003,"r":-0.0023},{"p":"rz","s":"H","z":7,"v":-0.0031,"r":-0.00196},{"p":"rz","s":"H","z":8,"v":-0.0031,"r":-0.00172},{"p":"rz","s":"H","z":9,"v":-0.0024,"r":-0.00145},{"p":"rz","s":"H","z":10,"v":-0.0032,"r":-0.00127},{"p":"rz","s":"H","z":11,"v":-0.0034,"r":-0.00127},{"p":"rz","s":"H","z":12,"v":-0.0034,"r":-0.00127},{"p":"rz","s":"H","z":13,"v":-0.0034,"r":-0.00127},{"p":"rz","s":"H","z":14,"v":-0.0026,"r":-0.00103},{"p":"rz","s":"H","z":15,"v":-0.0038,"r":-0.00127},{"p":"rz","s":"H","z":16,"v":-0.0039,"r":-0.0012},{"p":"rz","s":"H","z":17,"v":-0.0039,"r":-0.0012},{"p":"rz","s":"H","z":18,"v":-0.0039,"r":-0.0012},{"p":"rz","s":"H","z":19,"v":-0.0026,"r":-0.00093},{"p":"rz","s":"H","z":20,"v":-0.004,"r":-0.0011},{"p":"rz","s":"H","z":21,"v":-0.004,"r":-0.0011},{"p":"rz","s":"H","z":22,"v":-0.004,"r":-0.0011},{"p":"rz","s":"H","z":23,"v":-0.0039,"r":-0.0011},{"p":"rz","s":"H","z":24,"v":-0.0031,"r":-0.00093},{"p":"rz","s":"H","z":25,"v":-0.004,"r":-0.001},
{"p":"rz","s":"E","z":3,"v":0.0054,"r":0.0095},{"p":"rz","s":"E","z":4,"v":0.0115,"r":0.0149},{"p":"rz","s":"E","z":5,"v":0.0041,"r":0.004},{"p":"rz","s":"E","z":6,"v":0.004,"r":0.0036},{"p":"rz","s":"E","z":7,"v":0.004,"r":0.0033},{"p":"rz","s":"E","z":8,"v":0.0103,"r":0.0035},{"p":"rz","s":"E","z":9,"v":0.0234,"r":0.0138},{"p":"rz","s":"E","z":10,"v":0.004,"r":0.0025},{"p":"rz","s":"E","z":11,"v":0.004,"r":0.0023},{"p":"rz","s":"E","z":12,"v":0.004,"r":0.0022},{"p":"rz","s":"E","z":13,"v":0.0133,"r":0.0037},{"p":"rz","s":"E","z":14,"v":0.0336,"r":0.0134},{"p":"rz","s":"E","z":15,"v":0.004,"r":0.0022},{"p":"rz","s":"E","z":16,"v":0.004,"r":0.0021},{"p":"rz","s":"E","z":17,"v":0.004,"r":0.002},{"p":"rz","s":"E","z":18,"v":0.0164,"r":0.0047},{"p":"rz","s":"E","z":19,"v":0.0437,"r":0.0045},{"p":"rz","s":"E","z":20,"v":0.0038,"r":0.0015},{"p":"rz","s":"E","z":21,"v":0.0038,"r":0.0014},{"p":"rz","s":"E","z":22,"v":0.0038,"r":0.0013},{"p":"rz","s":"E","z":23,"v":0.0107,"r":0.0023},{"p":"rz","s":"E","z":24,"v":0.027,"r":0.0055},{"p":"rz","s":"E","z":25,"v":0.0038,"r":0.0007},
{"p":"rz","s":"M5","z":3,"v":0.0015,"r":0.00286},{"p":"rz","s":"M5","z":4,"v":0.0054,"r":0.00666},{"p":"rz","s":"M5","z":5,"v":0.0033,"r":0.00407},{"p":"rz","s":"M5","z":6,"v":0.0034,"r":0.00372},{"p":"rz","s":"M5","z":7,"v":0.0034,"r":0.00338},{"p":"rz","s":"M5","z":8,"v":0.0017,"r":0.00286},{"p":"rz","s":"M5","z":9,"v":0.0095,"r":0.00545},{"p":"rz","s":"M5","z":10,"v":0.0042,"r":0.00217},{"p":"rz","s":"M5","z":11,"v":0.0042,"r":0.002},{"p":"rz","s":"M5","z":12,"v":0.0042,"r":0.0019},{"p":"rz","s":"M5","z":13,"v":0.0001,"r":0.0019},{"p":"rz","s":"M5","z":14,"v":0.0119,"r":0.00459},{"p":"rz","s":"M5","z":15,"v":0.0037,"r":0.00131},{"p":"rz","s":"M5","z":16,"v":0.0037,"r":0.00131},{"p":"rz","s":"M5","z":17,"v":0.0037,"r":0.00131},{"p":"rz","s":"M5","z":18,"v":-0.0014,"r":0.00114},{"p":"rz","s":"M5","z":19,"v":0.0146,"r":0.00476},{"p":"rz","s":"M5","z":20,"v":0.0037,"r":0.00114},{"p":"rz","s":"M5","z":21,"v":0.0037,"r":0.001},{"p":"rz","s":"M5","z":22,"v":0.0037,"r":0.001},{"p":"rz","s":"M5","z":23,"v":0.0005,"r":0.0008},{"p":"rz","s":"M5","z":24,"v":0.0099,"r":0.00356},{"p":"rz","s":"M5","z":25,"v":0.0034,"r":0.00062},
{"p":"rz","s":"IM","z":3,"v":0.0029,"r":0.0047},{"p":"rz","s":"IM","z":4,"v":0.0037,"r":0.00424},{"p":"rz","s":"IM","z":5,"v":0.0045,"r":0.0039},{"p":"rz","s":"IM","z":6,"v":0.0045,"r":0.0037},{"p":"rz","s":"IM","z":7,"v":0.0045,"r":0.0035},{"p":"rz","s":"IM","z":8,"v":0.0045,"r":0.0031},{"p":"rz","s":"IM","z":9,"v":0.0052,"r":0.0029},{"p":"rz","s":"IM","z":10,"v":0.0045,"r":0.0028},{"p":"rz","s":"IM","z":11,"v":0.0045,"r":0.00252},{"p":"rz","s":"IM","z":12,"v":0.0045,"r":0.0024},{"p":"rz","s":"IM","z":13,"v":0.0045,"r":0.0023},{"p":"rz","s":"IM","z":14,"v":0.0045,"r":0.00217},{"p":"rz","s":"IM","z":15,"v":0.0041,"r":0.0021},{"p":"rz","s":"IM","z":16,"v":0.0041,"r":0.002},{"p":"rz","s":"IM","z":17,"v":0.0041,"r":0.0019},{"p":"rz","s":"IM","z":18,"v":0.0041,"r":0.0019},{"p":"rz","s":"IM","z":19,"v":0.0048,"r":0.0018},{"p":"rz","s":"IM","z":20,"v":0.0037,"r":0.00155},{"p":"rz","s":"IM","z":21,"v":0.0037,"r":0.0015},{"p":"rz","s":"IM","z":22,"v":0.0037,"r":0.00145},{"p":"rz","s":"IM","z":23,"v":0.0037,"r":0.0013},{"p":"rz","s":"IM","z":24,"v":0.0042,"r":0.00097},{"p":"rz","s":"IM","z":25,"v":0.0037,"r":0.00062},
{"p":"rz","s":"MSE","z":3,"v":0.00265,"r":0.00476},{"p":"rz","s":"MSE","z":4,"v":0.0048,"r":0.00666},{"p":"rz","s":"MSE","z":5,"v":0.0066,"r":0.00683},{"p":"rz","s":"MSE","z":6,"v":0.0072,"r":0.00631},{"p":"rz","s":"MSE","z":7,"v":0.0072,"r":0.00579},{"p":"rz","s":"MSE","z":8,"v":0.0078,"r":0.00527},{"p":"rz","s":"MSE","z":9,"v":0.0095,"r":0.00562},{"p":"rz","s":"MSE","z":10,"v":0.0102,"r":0.00545},{"p":"rz","s":"MSE","z":11,"v":0.0102,"r":0.0053},{"p":"rz","s":"MSE","z":12,"v":0.0099,"r":0.0052},{"p":"rz","s":"MSE","z":13,"v":0.0099,"r":0.0051},{"p":"rz","s":"MSE","z":14,"v":0.0123,"r":0.00493},{"p":"rz","s":"MSE","z":15,"v":0.0119,"r":0.0049},{"p":"rz","s":"MSE","z":16,"v":0.0119,"r":0.0048},{"p":"rz","s":"MSE","z":17,"v":0.0119,"r":0.0047},{"p":"rz","s":"MSE","z":18,"v":0.0117,"r":0.0047},{"p":"rz","s":"MSE","z":19,"v":0.0138,"r":0.00449},{"p":"rz","s":"MSE","z":20,"v":0.0128,"r":0.0044},{"p":"rz","s":"MSE","z":21,"v":0.0128,"r":0.0044},{"p":"rz","s":"MSE","z":22,"v":0.0128,"r":0.0043},{"p":"rz","s":"MSE","z":23,"v":0.0125,"r":0.0043},{"p":"rz","s":"MSE","z":24,"v":0.0138,"r":0.0044},{"p":"rz","s":"MSE","z":25,"v":0.013,"r":0.00424}
]},
"data": {"name": "d"},
"columns": 3,
"spacing": {"row": 36, "column": 176},
"bounds": "flush",
"concat": [
{"width": 281, "height": 224, "transform": [{"filter": "datum.p === 'ux'"}],
 "encoding": {"x": {"field": "z", "type": "quantitative", "scale": {"domain": [1.9, 26.1], "nice": false, "zero": false}, "axis": {"values": [10, 20], "title": null}}},
 "layer": [
  {"encoding": {"y": {"field": "v", "type": "quantitative", "scale": {"domain": [-0.00805, 0.00477], "nice": false, "zero": false}, "axis": {"orient": "left", "values": [-0.005, 0], "format": ".3f", "title": "ux − ux,Abq /m"}}},
   "layer": [
    {"mark": {"type": "line", "clip": true}, "encoding": {"stroke": {"field": "s", "type": "nominal", "scale": {"domain": ["H","IM","E","MSE","M5","REL"], "range": ["#0173b2","#d55e00","#de8f05","#cc78bc","#029e73","#8a8a8a"]},
      "legend": {"orient": "none", "legendX": -50, "legendY": 541, "columns": 3, "title": null, "symbolType": "M-2.35,0H2.35", "symbolSize": 400, "symbolOffset": 11.5, "symbolStrokeWidth": 4, "labelFont": "Liberation Serif", "labelFontSize": 21.5, "labelColor": "black", "labelLimit": 1000, "labelOffset": 29, "columnPadding": 31, "rowPadding": 9.5, "padding": 5, "strokeColor": "#d0d0d0", "cornerRadius": 4,
       "labelExpr": "datum.value === 'H' ? 'HAWC2, ns = 25' : datum.value === 'E' ? 'Exudyn, ns = 10, nmb = 18' : datum.value === 'M5' ? 'Exudyn, ns = 10, nmb = 18, nmi = 5' : datum.value === 'IM' ? 'Exudyn, ns = 10, nmb = 18, IM intf.' : datum.value === 'MSE' ? 'Exudyn, ns = 10, nmb = 18, MSE intf.' : 'Relative difference: (u − uAbq)/|uAbq|'",
       "encode": {"symbols": {"update": {"strokeWidth": {"value": 4}, "fill": {"value": "transparent"}, "strokeDash": {"signal": "datum.value === 'REL' ? [4, 3] : [100, 0]"}}}}}},
      "strokeWidth": {"condition": [{"test": "datum.s === 'E'", "value": 5}, {"test": "datum.s === 'MSE'", "value": 3}], "value": 4}}},
    {"mark": {"type": "point", "filled": true, "clip": true, "opacity": 1, "stroke": "black", "strokeWidth": 0.8, "size": 529},
     "encoding": {
      "fill": {"field": "s", "type": "nominal", "scale": {"domain": ["H","IM","E","MSE","M5"], "range": ["#0173b2","#d55e00","#de8f05","#cc78bc","#029e73"]},
       "legend": {"orient": "none", "legendX": -50, "legendY": 541, "columns": 3, "title": null, "symbolSize": 529, "symbolOffset": 11.5, "symbolStrokeWidth": 0.8, "symbolStrokeColor": "black", "labelFont": "Liberation Serif", "labelFontSize": 21.5, "labelLimit": 1000, "labelOffset": 29, "columnPadding": 31, "rowPadding": 9.5, "padding": 5, "labelOpacity": 0, "labelExpr": "'\u00a0'"}},
      "shape": {"field": "s", "type": "nominal", "scale": {"domain": ["H","IM","E","MSE","M5"], "range": ["M-0.435,0A0.435,0.435,0,1,1,0.435,0A0.435,0.435,0,1,1,-0.435,0ZM-2.183,0L-2.183,0M2.183,0L2.183,0","M-0.348,-0.348H0.348L0,0.348ZM-2.183,0L-2.183,0M29.67,0L29.67,0","M0,-0.391L0.391,0.391L-0.391,0.391ZM-2.183,0L-2.183,0M2.183,0L2.183,0","M0,-0.391L0.391,0L0,0.391L-0.391,0ZM-2.183,0L-2.183,0M31.23,0L31.23,0","M-0.374,-0.374H0.374V0.374H-0.374ZM-2.183,0L-2.183,0M2.183,0L2.183,0"]},
       "legend": {"orient": "none", "legendX": -50, "legendY": 541, "columns": 3, "title": null, "symbolSize": 529, "symbolOffset": 11.5, "symbolStrokeWidth": 0.8, "symbolStrokeColor": "black", "labelFont": "Liberation Serif", "labelFontSize": 21.5, "labelLimit": 1000, "labelOffset": 29, "columnPadding": 31, "rowPadding": 9.5, "padding": 5, "labelOpacity": 0, "labelExpr": "'\u00a0'"}}}}
   ]},
  {"mark": {"type": "line", "clip": true, "opacity": 0.85, "strokeCap": "butt"},
   "encoding": {"y": {"field": "r", "type": "quantitative", "scale": {"domain": [-0.301, 0.068], "nice": false, "zero": false}, "axis": {"orient": "right", "values": [-0.3, -0.2, -0.1, 0], "format": ".1%", "title": null, "labelColor": "#808080", "tickColor": "#808080", "gridDash": [1.5, 1.5], "gridColor": "#b8b8b8", "gridWidth": 0.8}},
    "stroke": {"field": "s", "type": "nominal", "scale": {"domain": ["H","IM","E","MSE","M5","REL"], "range": ["#0173b2","#d55e00","#de8f05","#cc78bc","#029e73","#8a8a8a"]}, "legend": null},
    "strokeWidth": {"condition": [{"test": "datum.s === 'H'", "value": 3.5}, {"test": "datum.s === 'MSE'", "value": 2.2}], "value": 2.5},
    "strokeDash": {"condition": [{"test": "datum.s === 'H'", "value": [3.5, 5.8]}, {"test": "datum.s === 'MSE'", "value": [2.2, 3.6]}], "value": [2.5, 4.1]}}}
 ],
 "resolve": {"scale": {"y": "independent"}}},
{"width": 281, "height": 224, "transform": [{"filter": "datum.p === 'uy'"}],
 "encoding": {"x": {"field": "z", "type": "quantitative", "scale": {"domain": [1.9, 26.1], "nice": false, "zero": false}, "axis": {"values": [10, 20], "title": null}}},
 "layer": [
  {"encoding": {"y": {"field": "v", "type": "quantitative", "scale": {"domain": [-0.0361, 0.0108], "nice": false, "zero": false}, "axis": {"orient": "left", "values": [-0.03, -0.02, -0.01, 0, 0.01], "format": ".2f", "title": "uy − uy,Abq /m"}}},
   "layer": [
    {"mark": {"type": "line", "clip": true}, "encoding": {"stroke": {"field": "s", "type": "nominal", "scale": {"domain": ["H","IM","E","MSE","M5","REL"], "range": ["#0173b2","#d55e00","#de8f05","#cc78bc","#029e73","#8a8a8a"]}, "legend": null},
      "strokeWidth": {"condition": [{"test": "datum.s === 'E'", "value": 5}, {"test": "datum.s === 'MSE'", "value": 3}], "value": 4}}},
    {"mark": {"type": "point", "filled": true, "clip": true, "opacity": 1, "stroke": "black", "strokeWidth": 0.8, "size": 529},
     "encoding": {
      "fill": {"field": "s", "type": "nominal", "scale": {"domain": ["H","IM","E","MSE","M5"], "range": ["#0173b2","#d55e00","#de8f05","#cc78bc","#029e73"]}, "legend": null},
      "shape": {"field": "s", "type": "nominal", "scale": {"domain": ["H","IM","E","MSE","M5"], "range": ["M-0.435,0A0.435,0.435,0,1,1,0.435,0A0.435,0.435,0,1,1,-0.435,0ZM-2.183,0L-2.183,0M2.183,0L2.183,0","M-0.348,-0.348H0.348L0,0.348ZM-2.183,0L-2.183,0M29.67,0L29.67,0","M0,-0.391L0.391,0.391L-0.391,0.391ZM-2.183,0L-2.183,0M2.183,0L2.183,0","M0,-0.391L0.391,0L0,0.391L-0.391,0ZM-2.183,0L-2.183,0M31.23,0L31.23,0","M-0.374,-0.374H0.374V0.374H-0.374ZM-2.183,0L-2.183,0M2.183,0L2.183,0"]}, "legend": null}}}
   ]},
  {"mark": {"type": "line", "clip": true, "opacity": 0.85, "strokeCap": "butt"},
   "encoding": {"y": {"field": "r", "type": "quantitative", "scale": {"domain": [-0.00867, 0.0103], "nice": false, "zero": false}, "axis": {"orient": "right", "values": [-0.005, 0, 0.005, 0.01], "format": ".1%", "title": null, "labelColor": "#808080", "tickColor": "#808080", "gridDash": [1.5, 1.5], "gridColor": "#b8b8b8", "gridWidth": 0.8}},
    "stroke": {"field": "s", "type": "nominal", "scale": {"domain": ["H","IM","E","MSE","M5","REL"], "range": ["#0173b2","#d55e00","#de8f05","#cc78bc","#029e73","#8a8a8a"]}, "legend": null},
    "strokeWidth": {"condition": [{"test": "datum.s === 'H'", "value": 3.5}, {"test": "datum.s === 'MSE'", "value": 2.2}], "value": 2.5},
    "strokeDash": {"condition": [{"test": "datum.s === 'H'", "value": [3.5, 5.8]}, {"test": "datum.s === 'MSE'", "value": [2.2, 3.6]}], "value": [2.5, 4.1]}}}
 ],
 "resolve": {"scale": {"y": "independent"}}},
{"width": 281, "height": 224, "transform": [{"filter": "datum.p === 'uz'"}],
 "encoding": {"x": {"field": "z", "type": "quantitative", "scale": {"domain": [1.9, 26.1], "nice": false, "zero": false}, "axis": {"values": [10, 20], "title": null}}},
 "layer": [
  {"encoding": {"y": {"field": "v", "type": "quantitative", "scale": {"domain": [-0.00157, 0.00951], "nice": false, "zero": false}, "axis": {"orient": "left", "values": [0, 0.0025, 0.005, 0.0075], "format": ".4f", "title": "uz − uz,Abq /m"}}},
   "layer": [
    {"mark": {"type": "line", "clip": true}, "encoding": {"stroke": {"field": "s", "type": "nominal", "scale": {"domain": ["H","IM","E","MSE","M5","REL"], "range": ["#0173b2","#d55e00","#de8f05","#cc78bc","#029e73","#8a8a8a"]}, "legend": null},
      "strokeWidth": {"condition": [{"test": "datum.s === 'E'", "value": 5}, {"test": "datum.s === 'MSE'", "value": 3}], "value": 4}}},
    {"mark": {"type": "point", "filled": true, "clip": true, "opacity": 1, "stroke": "black", "strokeWidth": 0.8, "size": 529},
     "encoding": {
      "fill": {"field": "s", "type": "nominal", "scale": {"domain": ["H","IM","E","MSE","M5"], "range": ["#0173b2","#d55e00","#de8f05","#cc78bc","#029e73"]}, "legend": null},
      "shape": {"field": "s", "type": "nominal", "scale": {"domain": ["H","IM","E","MSE","M5"], "range": ["M-0.435,0A0.435,0.435,0,1,1,0.435,0A0.435,0.435,0,1,1,-0.435,0ZM-2.183,0L-2.183,0M2.183,0L2.183,0","M-0.348,-0.348H0.348L0,0.348ZM-2.183,0L-2.183,0M29.67,0L29.67,0","M0,-0.391L0.391,0.391L-0.391,0.391ZM-2.183,0L-2.183,0M2.183,0L2.183,0","M0,-0.391L0.391,0L0,0.391L-0.391,0ZM-2.183,0L-2.183,0M31.23,0L31.23,0","M-0.374,-0.374H0.374V0.374H-0.374ZM-2.183,0L-2.183,0M2.183,0L2.183,0"]}, "legend": null}}}
   ]},
  {"mark": {"type": "line", "clip": true, "opacity": 0.85, "strokeCap": "butt"},
   "encoding": {"y": {"field": "r", "type": "quantitative", "scale": {"domain": [-0.0023, 0.1166], "nice": false, "zero": false}, "axis": {"orient": "right", "values": [0, 0.025, 0.05, 0.075, 0.1], "format": ".1%", "title": null, "labelColor": "#808080", "tickColor": "#808080", "gridDash": [1.5, 1.5], "gridColor": "#b8b8b8", "gridWidth": 0.8}},
    "stroke": {"field": "s", "type": "nominal", "scale": {"domain": ["H","IM","E","MSE","M5","REL"], "range": ["#0173b2","#d55e00","#de8f05","#cc78bc","#029e73","#8a8a8a"]}, "legend": null},
    "strokeWidth": {"condition": [{"test": "datum.s === 'H'", "value": 3.5}, {"test": "datum.s === 'MSE'", "value": 2.2}], "value": 2.5},
    "strokeDash": {"condition": [{"test": "datum.s === 'H'", "value": [3.5, 5.8]}, {"test": "datum.s === 'MSE'", "value": [2.2, 3.6]}], "value": [2.5, 4.1]}}}
 ],
 "resolve": {"scale": {"y": "independent"}}},
{"width": 281, "height": 224, "transform": [{"filter": "datum.p === 'rx'"}],
 "encoding": {"x": {"field": "z", "type": "quantitative", "scale": {"domain": [1.9, 26.1], "nice": false, "zero": false}, "axis": {"values": [10, 20], "title": "Undeformed z-axis position /m"}}},
 "layer": [
  {"encoding": {"y": {"field": "v", "type": "quantitative", "scale": {"domain": [-0.0291, 0.1179], "nice": false, "zero": false}, "axis": {"orient": "left", "values": [0, 0.05, 0.1], "format": ".2f", "title": "urx − urx,Abq /°"}}},
   "layer": [
    {"mark": {"type": "line", "clip": true}, "encoding": {"stroke": {"field": "s", "type": "nominal", "scale": {"domain": ["H","IM","E","MSE","M5","REL"], "range": ["#0173b2","#d55e00","#de8f05","#cc78bc","#029e73","#8a8a8a"]}, "legend": null},
      "strokeWidth": {"condition": [{"test": "datum.s === 'E'", "value": 5}, {"test": "datum.s === 'MSE'", "value": 3}], "value": 4}}},
    {"mark": {"type": "point", "filled": true, "clip": true, "opacity": 1, "stroke": "black", "strokeWidth": 0.8, "size": 529},
     "encoding": {
      "fill": {"field": "s", "type": "nominal", "scale": {"domain": ["H","IM","E","MSE","M5"], "range": ["#0173b2","#d55e00","#de8f05","#cc78bc","#029e73"]}, "legend": null},
      "shape": {"field": "s", "type": "nominal", "scale": {"domain": ["H","IM","E","MSE","M5"], "range": ["M-0.435,0A0.435,0.435,0,1,1,0.435,0A0.435,0.435,0,1,1,-0.435,0ZM-2.183,0L-2.183,0M2.183,0L2.183,0","M-0.348,-0.348H0.348L0,0.348ZM-2.183,0L-2.183,0M29.67,0L29.67,0","M0,-0.391L0.391,0.391L-0.391,0.391ZM-2.183,0L-2.183,0M2.183,0L2.183,0","M0,-0.391L0.391,0L0,0.391L-0.391,0ZM-2.183,0L-2.183,0M31.23,0L31.23,0","M-0.374,-0.374H0.374V0.374H-0.374ZM-2.183,0L-2.183,0M2.183,0L2.183,0"]}, "legend": null}}}
   ]},
  {"mark": {"type": "line", "clip": true, "opacity": 0.85, "strokeCap": "butt"},
   "encoding": {"y": {"field": "r", "type": "quantitative", "scale": {"domain": [-0.00494, 0.00949], "nice": false, "zero": false}, "axis": {"orient": "right", "values": [0, 0.005], "format": ".1%", "title": null, "labelColor": "#808080", "tickColor": "#808080", "gridDash": [1.5, 1.5], "gridColor": "#b8b8b8", "gridWidth": 0.8}},
    "stroke": {"field": "s", "type": "nominal", "scale": {"domain": ["H","IM","E","MSE","M5","REL"], "range": ["#0173b2","#d55e00","#de8f05","#cc78bc","#029e73","#8a8a8a"]}, "legend": null},
    "strokeWidth": {"condition": [{"test": "datum.s === 'H'", "value": 3.5}, {"test": "datum.s === 'MSE'", "value": 2.2}], "value": 2.5},
    "strokeDash": {"condition": [{"test": "datum.s === 'H'", "value": [3.5, 5.8]}, {"test": "datum.s === 'MSE'", "value": [2.2, 3.6]}], "value": [2.5, 4.1]}}}
 ],
 "resolve": {"scale": {"y": "independent"}}},
{"width": 281, "height": 224, "transform": [{"filter": "datum.p === 'ry'"}],
 "encoding": {"x": {"field": "z", "type": "quantitative", "scale": {"domain": [1.9, 26.1], "nice": false, "zero": false}, "axis": {"values": [10, 20], "title": "Undeformed z-axis position /m"}}},
 "layer": [
  {"encoding": {"y": {"field": "v", "type": "quantitative", "scale": {"domain": [-0.0248, 0.02525], "nice": false, "zero": false}, "axis": {"orient": "left", "values": [-0.02, 0, 0.02], "format": ".2f", "title": "ury − ury,Abq /°"}}},
   "layer": [
    {"mark": {"type": "line", "clip": true}, "encoding": {"stroke": {"field": "s", "type": "nominal", "scale": {"domain": ["H","IM","E","MSE","M5","REL"], "range": ["#0173b2","#d55e00","#de8f05","#cc78bc","#029e73","#8a8a8a"]}, "legend": null},
      "strokeWidth": {"condition": [{"test": "datum.s === 'E'", "value": 5}, {"test": "datum.s === 'MSE'", "value": 3}], "value": 4}}},
    {"mark": {"type": "point", "filled": true, "clip": true, "opacity": 1, "stroke": "black", "strokeWidth": 0.8, "size": 529},
     "encoding": {
      "fill": {"field": "s", "type": "nominal", "scale": {"domain": ["H","IM","E","MSE","M5"], "range": ["#0173b2","#d55e00","#de8f05","#cc78bc","#029e73"]}, "legend": null},
      "shape": {"field": "s", "type": "nominal", "scale": {"domain": ["H","IM","E","MSE","M5"], "range": ["M-0.435,0A0.435,0.435,0,1,1,0.435,0A0.435,0.435,0,1,1,-0.435,0ZM-2.183,0L-2.183,0M2.183,0L2.183,0","M-0.348,-0.348H0.348L0,0.348ZM-2.183,0L-2.183,0M29.67,0L29.67,0","M0,-0.391L0.391,0.391L-0.391,0.391ZM-2.183,0L-2.183,0M2.183,0L2.183,0","M0,-0.391L0.391,0L0,0.391L-0.391,0ZM-2.183,0L-2.183,0M31.23,0L31.23,0","M-0.374,-0.374H0.374V0.374H-0.374ZM-2.183,0L-2.183,0M2.183,0L2.183,0"]}, "legend": null}}}
   ]},
  {"mark": {"type": "line", "clip": true, "opacity": 0.85, "strokeCap": "butt"},
   "encoding": {"y": {"field": "r", "type": "quantitative", "scale": {"domain": [-0.375, 0.288], "nice": false, "zero": false}, "axis": {"orient": "right", "values": [-0.2, 0, 0.2], "format": ".1%", "title": null, "labelColor": "#808080", "tickColor": "#808080", "gridDash": [1.5, 1.5], "gridColor": "#b8b8b8", "gridWidth": 0.8}},
    "stroke": {"field": "s", "type": "nominal", "scale": {"domain": ["H","IM","E","MSE","M5","REL"], "range": ["#0173b2","#d55e00","#de8f05","#cc78bc","#029e73","#8a8a8a"]}, "legend": null},
    "strokeWidth": {"condition": [{"test": "datum.s === 'H'", "value": 3.5}, {"test": "datum.s === 'MSE'", "value": 2.2}], "value": 2.5},
    "strokeDash": {"condition": [{"test": "datum.s === 'H'", "value": [3.5, 5.8]}, {"test": "datum.s === 'MSE'", "value": [2.2, 3.6]}], "value": [2.5, 4.1]}}}
 ],
 "resolve": {"scale": {"y": "independent"}}},
{"width": 281, "height": 224, "transform": [{"filter": "datum.p === 'rz'"}],
 "encoding": {"x": {"field": "z", "type": "quantitative", "scale": {"domain": [1.9, 26.1], "nice": false, "zero": false}, "axis": {"values": [10, 20], "title": "Undeformed z-axis position /m"}}},
 "layer": [
  {"encoding": {"y": {"field": "v", "type": "quantitative", "scale": {"domain": [-0.0065, 0.046], "nice": false, "zero": false}, "axis": {"orient": "left", "values": [0, 0.02, 0.04], "format": ".2f", "title": "urz − urz,Abq /°"}}},
   "layer": [
    {"mark": {"type": "line", "clip": true}, "encoding": {"stroke": {"field": "s", "type": "nominal", "scale": {"domain": ["H","IM","E","MSE","M5","REL"], "range": ["#0173b2","#d55e00","#de8f05","#cc78bc","#029e73","#8a8a8a"]}, "legend": null},
      "strokeWidth": {"condition": [{"test": "datum.s === 'E'", "value": 5}, {"test": "datum.s === 'MSE'", "value": 3}], "value": 4}}},
    {"mark": {"type": "point", "filled": true, "clip": true, "opacity": 1, "stroke": "black", "strokeWidth": 0.8, "size": 529},
     "encoding": {
      "fill": {"field": "s", "type": "nominal", "scale": {"domain": ["H","IM","E","MSE","M5"], "range": ["#0173b2","#d55e00","#de8f05","#cc78bc","#029e73"]}, "legend": null},
      "shape": {"field": "s", "type": "nominal", "scale": {"domain": ["H","IM","E","MSE","M5"], "range": ["M-0.435,0A0.435,0.435,0,1,1,0.435,0A0.435,0.435,0,1,1,-0.435,0ZM-2.183,0L-2.183,0M2.183,0L2.183,0","M-0.348,-0.348H0.348L0,0.348ZM-2.183,0L-2.183,0M29.67,0L29.67,0","M0,-0.391L0.391,0.391L-0.391,0.391ZM-2.183,0L-2.183,0M2.183,0L2.183,0","M0,-0.391L0.391,0L0,0.391L-0.391,0ZM-2.183,0L-2.183,0M31.23,0L31.23,0","M-0.374,-0.374H0.374V0.374H-0.374ZM-2.183,0L-2.183,0M2.183,0L2.183,0"]}, "legend": null}}}
   ]},
  {"mark": {"type": "line", "clip": true, "opacity": 0.85, "strokeCap": "butt"},
   "encoding": {"y": {"field": "r", "type": "quantitative", "scale": {"domain": [-0.00541, 0.01776], "nice": false, "zero": false}, "axis": {"orient": "right", "values": [-0.005, 0, 0.005, 0.01, 0.015], "format": ".1%", "title": null, "labelColor": "#808080", "tickColor": "#808080", "gridDash": [1.5, 1.5], "gridColor": "#b8b8b8", "gridWidth": 0.8}},
    "stroke": {"field": "s", "type": "nominal", "scale": {"domain": ["H","IM","E","MSE","M5","REL"], "range": ["#0173b2","#d55e00","#de8f05","#cc78bc","#029e73","#8a8a8a"]}, "legend": null},
    "strokeWidth": {"condition": [{"test": "datum.s === 'H'", "value": 3.5}, {"test": "datum.s === 'MSE'", "value": 2.2}], "value": 2.5},
    "strokeDash": {"condition": [{"test": "datum.s === 'H'", "value": [3.5, 5.8]}, {"test": "datum.s === 'MSE'", "value": [2.2, 3.6]}], "value": [2.5, 4.1]}}}
 ],
 "resolve": {"scale": {"y": "independent"}}}
],
"config": {
 "font": "Liberation Serif",
 "view": {"stroke": "black", "strokeWidth": 1.2},
 "axis": {"labelFont": "Liberation Serif", "titleFont": "Liberation Serif", "labelFontSize": 19.5, "titleFontSize": 20, "titleFontWeight": "normal", "labelColor": "black", "titleColor": "black", "tickColor": "black", "tickSize": 5, "labelPadding": 3, "titlePadding": 7, "domain": false, "grid": true, "gridColor": "#c4c4c4", "gridWidth": 1.1, "labelOverlap": false, "labelFlush": false},
 "axisX": {"titlePadding": 2, "labelFont": "Liberation Serif"},
 "axisY": {"labelFont": "Liberation Serif"},
 "legend": {"labelFont": "Liberation Serif"}
}
}
